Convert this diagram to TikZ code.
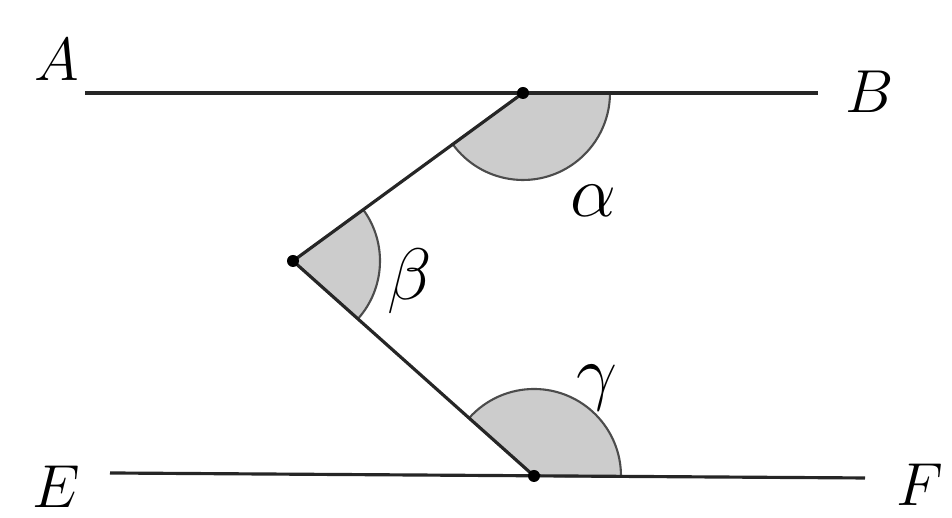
\documentclass[tikz,border=0pt]{standalone}
\usetikzlibrary{positioning}

\begin{document}
\begin{tikzpicture}[
  seg/.style={line width=0.9pt, black!85},
  sector/.style={fill=black!20, draw=black!70, line width=0.6pt},
  pt/.style={circle, fill=black, inner sep=0pt, minimum size=1.2mm},
  lbl/.style={font=\fontsize{19}{22}\selectfont, inner sep=0pt},
  glbl/.style={font=\fontsize{22}{24}\selectfont, inner sep=0pt}
]
  \useasboundingbox (0,0) rectangle (9.52,5.18);
  % points
  \coordinate (a) at (0.85,4.25);
  \coordinate (b) at (8.18,4.25);
  \coordinate (p) at (5.23,4.25);
  \coordinate (o) at (2.93,2.57);
  \coordinate (q) at (5.34,0.42);
  \coordinate (e) at (1.10,0.45);
  \coordinate (f) at (8.65,0.40);
  % shaded angles
  \path[sector] (p) -- ++(216.1:0.87) arc[start angle=216.1, end angle=360, radius=0.87] -- cycle;
  \path[sector] (o) -- ++(-41.7:0.87) arc[start angle=-41.7, end angle=36.1, radius=0.87] -- cycle;
  \path[sector] (q) -- ++(-0.4:0.87) arc[start angle=-0.4, end angle=138.3, radius=0.87] -- cycle;
  % lines
  \draw[seg] (a) -- (b);
  \draw[seg] (e) -- (f);
  \draw[seg] (p) -- (o) -- (q);
  \node[pt] (pp) at (p) {};
  \node[pt] (po) at (o) {};
  \node[pt] (pq) at (q) {};
  % labels
  \node[lbl] (la) at (0.57,4.58) {$A$};
  \node[lbl] (lb) at (8.70,4.26) {$B$};
  \node[lbl] (le) at (0.56,0.31) {$E$};
  \node[lbl] (lf) at (9.20,0.33) {$F$};
  \node[glbl] (lal) at (5.93,3.17) {$\alpha$};
  \node[glbl] (lbe) at (4.10,2.37) {$\beta$};
  \node[glbl] (lga) at (5.97,1.30) {$\gamma$};
\end{tikzpicture}
\end{document}
